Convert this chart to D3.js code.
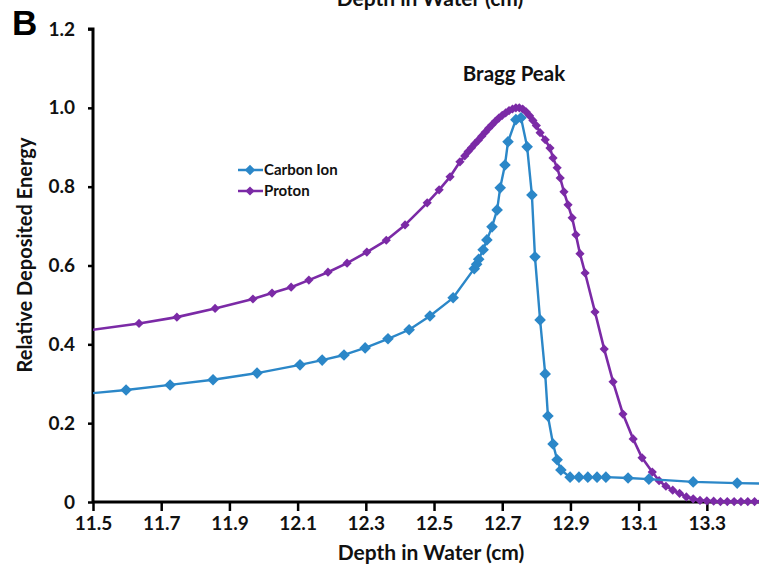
<!DOCTYPE html>
<html><head><meta charset="utf-8">
<script src="https://cdn.jsdelivr.net/npm/d3@7"></script>
<style>html,body{margin:0;padding:0;background:#fff;}svg{display:block;}</style>
</head><body>
<svg id="chart" width="759" height="568"></svg>
<script>
// ---- data ----
const seriesNames = ["Carbon Ion", "Proton"];
const xTicks = [11.5, 11.7, 11.9, 12.1, 12.3, 12.5, 12.7, 12.9, 13.1, 13.3];
const yTicks = [0, 0.2, 0.4, 0.6, 0.8, 1.0, 1.2];
const yTickLabels = ["0", "0.2", "0.4", "0.6", "0.8", "1.0", "1.2"];

const carbonDepth = [11.40, 11.597, 11.726, 11.852, 11.981, 12.107, 12.172, 12.236, 12.298, 12.365, 12.427, 12.488, 12.556,
  12.618, 12.625, 12.631, 12.644, 12.655, 12.670, 12.685, 12.694, 12.708, 12.717, 12.740, 12.755,
  12.773, 12.787, 12.796, 12.811, 12.826, 12.834, 12.849, 12.861, 12.872, 12.899, 12.925, 12.951, 12.978, 13.004,
  13.069, 13.130, 13.260, 13.389, 13.55];
const carbonEnergy = [0.268, 0.284, 0.297, 0.310, 0.327, 0.348, 0.360, 0.373, 0.391, 0.414, 0.437, 0.472, 0.518,
  0.592, 0.603, 0.616, 0.640, 0.665, 0.698, 0.741, 0.797, 0.855, 0.914, 0.970, 0.975,
  0.901, 0.779, 0.622, 0.462, 0.325, 0.218, 0.147, 0.107, 0.081, 0.063, 0.063, 0.063, 0.063, 0.063,
  0.061, 0.058, 0.051, 0.048, 0.045];

const protonDepth = [11.40, 11.635, 11.746, 11.858, 11.969, 12.025, 12.081, 12.133, 12.189, 12.245, 12.303, 12.360, 12.415,
  12.480, 12.515, 12.547, 12.576, 12.590, 12.600, 12.610, 12.620, 12.630, 12.640, 12.650, 12.660, 12.670, 12.680,
  12.690, 12.700, 12.710, 12.720, 12.730, 12.740, 12.750, 12.760, 12.770, 12.780, 12.790, 12.800,
  12.811, 12.826, 12.840, 12.849, 12.861, 12.870, 12.881, 12.893, 12.905, 12.916, 12.928, 12.943, 12.972, 12.999,
  13.025, 13.054, 13.084, 13.110, 13.140, 13.160, 13.180, 13.200, 13.220, 13.240, 13.260, 13.280, 13.300, 13.320,
  13.340, 13.360, 13.380, 13.400, 13.420, 13.440, 13.460];
const protonEnergy = [0.425, 0.453, 0.469, 0.491, 0.515, 0.530, 0.545, 0.563, 0.583, 0.606, 0.634, 0.664, 0.703,
  0.759, 0.792, 0.825, 0.863, 0.878, 0.889, 0.899, 0.909, 0.918, 0.928, 0.938, 0.948, 0.957, 0.966,
  0.974, 0.981, 0.987, 0.993, 0.997, 1.000, 1.000, 0.997, 0.990, 0.980, 0.968, 0.955,
  0.937, 0.919, 0.898, 0.873, 0.848, 0.822, 0.787, 0.754, 0.721, 0.678, 0.630, 0.581, 0.482, 0.388,
  0.305, 0.223, 0.160, 0.112, 0.076, 0.054, 0.040, 0.030, 0.022, 0.013, 0.008, 0.004, 0.003, 0.002,
  0.001, 0.001, 0.001, 0.001, 0.001, 0.001, 0.001];

const colors = {"Carbon Ion": "#2b87c8", "Proton": "#7b2aa6"};

// ---- layout ----
const svg = d3.select("#chart");
const W = 759, H = 568;
const x = d3.scaleLinear().domain([11.5, 13.45]).range([93, 758]);
const y = d3.scaleLinear().domain([0, 1.2]).range([502, 29]);
const FONT = "Lato, 'Open Sans', sans-serif";

svg.append("defs").append("clipPath").attr("id", "plotclip")
  .append("rect").attr("x", 93).attr("y", 0).attr("width", W - 93).attr("height", 520);

// top (cropped) title
svg.append("text").attr("x", 430).attr("y", 6).attr("text-anchor", "middle")
  .attr("font-family", FONT).attr("font-weight", "bold").attr("font-size", 21)
  .attr("fill", "#111").text("Depth in Water (cm)");

// panel letter
svg.append("text").attr("x", 12).attr("y", 35)
  .attr("font-family", "'Liberation Sans', Arial, sans-serif").attr("font-weight", "bold").attr("font-size", 35)
  .attr("fill", "#000").text("B");

// axes
const yAxis = d3.axisLeft(y).tickValues(yTicks).tickSize(5).tickPadding(13)
  .tickFormat((d, i) => yTickLabels[i]);
const gy = svg.append("g").attr("transform", "translate(93,0)").call(yAxis);
gy.select(".domain").attr("stroke", "#000").attr("stroke-width", 3).attr("d", "M-5,29H0V502");
gy.selectAll(".tick line").attr("stroke", "#000").attr("stroke-width", 2.5);
gy.selectAll(".tick text").attr("font-family", FONT).attr("font-weight", "bold")
  .attr("font-size", 19).attr("fill", "#111");

const xAxis = d3.axisBottom(x).tickValues(xTicks).tickSize(9).tickPadding(6)
  .tickFormat(d3.format(".1f"));
const gx = svg.append("g").attr("transform", "translate(0,502)").call(xAxis);
gx.select(".domain").attr("stroke", "#000").attr("stroke-width", 3).attr("d", "M93,0H759");
gx.selectAll(".tick line").attr("stroke", "#000").attr("stroke-width", 2.5);
gx.selectAll(".tick text").attr("font-family", FONT).attr("font-weight", "bold")
  .attr("font-size", 19).attr("fill", "#111");

// axis titles
svg.append("text").attr("x", 431).attr("y", 560).attr("text-anchor", "middle")
  .attr("font-family", FONT).attr("font-weight", "bold").attr("font-size", 21)
  .attr("fill", "#111").text("Depth in Water (cm)");
svg.append("text").attr("transform", "translate(32,255) rotate(-90)").attr("text-anchor", "middle")
  .attr("font-family", FONT).attr("font-weight", "bold").attr("font-size", 20)
  .attr("fill", "#111").text("Relative Deposited Energy");

// Bragg peak label
svg.append("text").attr("x", 514).attr("y", 81).attr("text-anchor", "middle")
  .attr("font-family", FONT).attr("font-weight", "bold").attr("font-size", 20.5)
  .attr("fill", "#111").text("Bragg Peak");

// series
const series = [
  {name: "Proton", xs: protonDepth, ys: protonEnergy, r: 4.6, lw: 2.6},
  {name: "Carbon Ion", xs: carbonDepth, ys: carbonEnergy, r: 5.8, lw: 2.4}
];
const line = d3.line().x(d => x(d[0])).y(d => y(d[1]));
const diamond = r => `M0,${-r}L${r},0L0,${r}L${-r},0Z`;
const plot = svg.append("g").attr("clip-path", "url(#plotclip)");
series.forEach(s => {
  const pts = s.xs.map((v, i) => [v, s.ys[i]]);
  plot.append("path").datum(pts).attr("d", line).attr("fill", "none")
    .attr("stroke", colors[s.name]).attr("stroke-width", s.lw).attr("stroke-linejoin", "round");
  plot.selectAll(null).data(pts).enter().append("path")
    .attr("transform", d => `translate(${x(d[0])},${y(d[1])})`)
    .attr("d", diamond(s.r)).attr("fill", colors[s.name]);
});

// legend
const legend = svg.append("g");
seriesNames.forEach((n, i) => {
  const ly = 170 + i * 21;
  legend.append("line").attr("x1", 238).attr("x2", 263).attr("y1", ly).attr("y2", ly)
    .attr("stroke", colors[n]).attr("stroke-width", 2.5);
  legend.append("path").attr("transform", `translate(250,${ly})`).attr("d", diamond(n === "Proton" ? 4.6 : 5.2))
    .attr("fill", colors[n]);
  legend.append("text").attr("x", 264).attr("y", ly + 5).attr("font-family", FONT)
    .attr("font-weight", "bold").attr("font-size", 15).attr("fill", "#111").text(n);
});
</script>
</body></html>
